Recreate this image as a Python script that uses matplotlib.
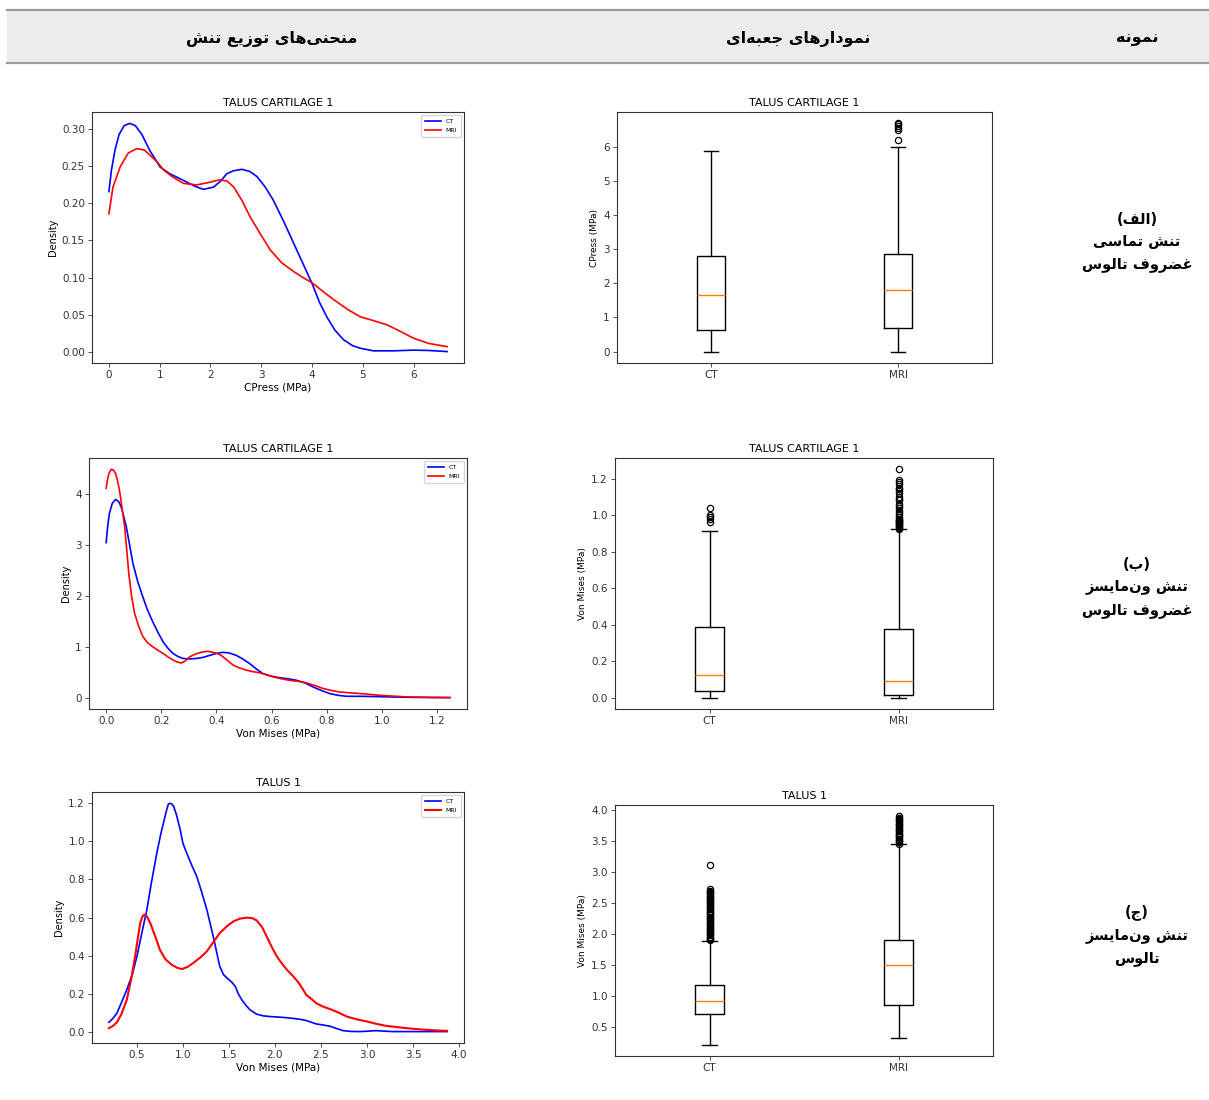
import matplotlib
matplotlib.use("Agg")
import matplotlib.pyplot as plt
from matplotlib.patches import Rectangle
from matplotlib.lines import Line2D

W, H = 1209, 1100

# ---- texts ----
head_curves = "منحنی\u200cهای توزیع تنش"
head_boxes = "نمودارهای جعبه\u200cای"
head_sample = "نمونه"
row_labels = ["(الف)\nتنش تماسی\nغضروف تالوس",
              "(ب)\nتنش ون\u200cمایسز\nغضروف تالوس",
              "(ج)\nتنش ون\u200cمایسز\nتالوس"]
titles = ["TALUS CARTILAGE 1", "TALUS CARTILAGE 1", "TALUS 1"]
xlabels = ["CPress (MPa)", "Von Mises (MPa)", "Von Mises (MPa)"]
box_ylabels = ["CPress (MPa)", "Von Mises (MPa)", "Von Mises (MPa)"]
groups = ["CT", "MRI"]

# ---- density curves ----
cp_ct_x = [0, 0.05, 0.12, 0.2, 0.3, 0.41, 0.52, 0.65, 0.8, 1.01, 1.2, 1.47, 1.7, 1.86, 2.06, 2.2, 2.32, 2.45, 2.62, 2.78, 2.92, 3.08, 3.24, 3.44, 3.64, 3.82, 4.0, 4.15, 4.29, 4.45, 4.62, 4.8, 4.95, 5.21, 5.6, 6.0, 6.3, 6.66]
cp_ct_y = [0.216, 0.245, 0.272, 0.293, 0.305, 0.308, 0.305, 0.293, 0.272, 0.249, 0.240, 0.231, 0.223, 0.219, 0.222, 0.230, 0.240, 0.244, 0.246, 0.243, 0.236, 0.222, 0.204, 0.176, 0.146, 0.119, 0.092, 0.066, 0.047, 0.029, 0.016, 0.008, 0.0045, 0.001, 0.001, 0.002, 0.0015, 0.0]
cp_mri_x = [0, 0.08, 0.22, 0.38, 0.55, 0.7, 0.81, 0.95, 1.08, 1.25, 1.47, 1.73, 1.95, 2.19, 2.33, 2.46, 2.62, 2.78, 2.98, 3.18, 3.4, 3.64, 3.82, 4.0, 4.2, 4.43, 4.7, 4.95, 5.2, 5.48, 5.75, 6.0, 6.3, 6.66]
cp_mri_y = [0.186, 0.222, 0.249, 0.268, 0.274, 0.272, 0.265, 0.256, 0.245, 0.236, 0.227, 0.225, 0.228, 0.232, 0.230, 0.222, 0.204, 0.182, 0.159, 0.137, 0.120, 0.108, 0.100, 0.093, 0.082, 0.070, 0.057, 0.047, 0.042, 0.036, 0.027, 0.018, 0.011, 0.0067]

vm_ct_x = [0, 0.006, 0.012, 0.022, 0.034, 0.045, 0.054, 0.063, 0.073, 0.085, 0.097, 0.115, 0.133, 0.15, 0.169, 0.188, 0.206, 0.224, 0.242, 0.26, 0.278, 0.3, 0.327, 0.35, 0.375, 0.4, 0.423, 0.445, 0.472, 0.495, 0.52, 0.545, 0.569, 0.6, 0.63, 0.66, 0.69, 0.72, 0.75, 0.78, 0.81, 0.84, 0.87, 0.93, 1.03, 1.1, 1.246]
vm_ct_y = [3.05, 3.4, 3.63, 3.82, 3.90, 3.86, 3.76, 3.58, 3.36, 3.0, 2.64, 2.27, 1.98, 1.72, 1.49, 1.28, 1.10, 0.97, 0.87, 0.81, 0.77, 0.76, 0.77, 0.79, 0.83, 0.87, 0.89, 0.88, 0.83, 0.76, 0.67, 0.56, 0.47, 0.42, 0.39, 0.37, 0.34, 0.29, 0.21, 0.14, 0.08, 0.045, 0.026, 0.025, 0.013, 0.005, 0.0]
vm_mri_x = [0, 0.005, 0.01, 0.018, 0.026, 0.034, 0.041, 0.048, 0.057, 0.067, 0.075, 0.082, 0.092, 0.103, 0.118, 0.133, 0.15, 0.169, 0.188, 0.206, 0.224, 0.242, 0.257, 0.272, 0.287, 0.302, 0.325, 0.351, 0.37, 0.387, 0.402, 0.417, 0.44, 0.46, 0.485, 0.508, 0.532, 0.556, 0.58, 0.605, 0.635, 0.665, 0.695, 0.726, 0.756, 0.786, 0.817, 0.847, 0.88, 0.92, 0.99, 1.09, 1.17, 1.246]
vm_mri_y = [4.12, 4.3, 4.41, 4.49, 4.48, 4.41, 4.27, 4.09, 3.75, 3.36, 2.88, 2.44, 2.0, 1.66, 1.40, 1.20, 1.08, 1.0, 0.93, 0.87, 0.80, 0.74, 0.70, 0.68, 0.72, 0.80, 0.86, 0.90, 0.91, 0.89, 0.87, 0.83, 0.73, 0.64, 0.58, 0.54, 0.51, 0.49, 0.45, 0.41, 0.37, 0.34, 0.32, 0.29, 0.24, 0.18, 0.14, 0.11, 0.095, 0.08, 0.046, 0.013, 0.004, 0.0]

ta_ct_x = [0.196, 0.24, 0.283, 0.33, 0.39, 0.45, 0.5, 0.55, 0.608, 0.66, 0.717, 0.76, 0.79, 0.82, 0.843, 0.87, 0.898, 0.93, 0.97, 1.0, 1.04, 1.1, 1.15, 1.2, 1.26, 1.3, 1.33, 1.37, 1.40, 1.44, 1.48, 1.53, 1.57, 1.6, 1.64, 1.69, 1.73, 1.8, 1.87, 1.95, 2.05, 2.15, 2.27, 2.34, 2.45, 2.52, 2.6, 2.67, 2.74, 2.82, 2.92, 3.0, 3.1, 3.2, 3.28, 3.5, 3.87]
ta_ct_y = [0.049, 0.07, 0.097, 0.15, 0.22, 0.3, 0.395, 0.51, 0.64, 0.79, 0.94, 1.04, 1.10, 1.16, 1.198, 1.2, 1.186, 1.14, 1.063, 0.99, 0.94, 0.87, 0.817, 0.74, 0.641, 0.56, 0.50, 0.41, 0.343, 0.3, 0.281, 0.26, 0.237, 0.2, 0.167, 0.135, 0.114, 0.092, 0.083, 0.079, 0.076, 0.072, 0.065, 0.058, 0.04, 0.035, 0.028, 0.016, 0.005, 0.001, 0.0, 0.002, 0.005, 0.002, 0.0, 0.0, 0.0]
ta_mri_x = [0.196, 0.24, 0.283, 0.33, 0.39, 0.44, 0.48, 0.51, 0.536, 0.56, 0.58, 0.61, 0.645, 0.7, 0.75, 0.81, 0.88, 0.94, 0.99, 1.05, 1.11, 1.19, 1.26, 1.33, 1.40, 1.48, 1.55, 1.62, 1.69, 1.75, 1.80, 1.86, 1.91, 1.96, 2.02, 2.08, 2.13, 2.2, 2.26, 2.3, 2.34, 2.4, 2.45, 2.52, 2.6, 2.7, 2.78, 2.9, 3.0, 3.1, 3.21, 3.32, 3.43, 3.54, 3.65, 3.76, 3.87]
ta_mri_y = [0.018, 0.03, 0.049, 0.09, 0.167, 0.28, 0.395, 0.49, 0.571, 0.605, 0.615, 0.605, 0.571, 0.5, 0.43, 0.38, 0.351, 0.335, 0.329, 0.34, 0.36, 0.39, 0.422, 0.47, 0.518, 0.555, 0.58, 0.594, 0.599, 0.597, 0.585, 0.55, 0.50, 0.45, 0.395, 0.355, 0.325, 0.29, 0.255, 0.225, 0.193, 0.17, 0.149, 0.132, 0.118, 0.098, 0.079, 0.063, 0.053, 0.041, 0.03, 0.024, 0.018, 0.013, 0.009, 0.006, 0.004]

# ---- box-plot statistics ----
cp_ct_box = dict(q1=0.63, med=1.67, q3=2.80, whislo=0.0, whishi=5.88, fliers=[])
cp_mri_box = dict(q1=0.68, med=1.79, q3=2.86, whislo=0.0, whishi=6.0,
                  fliers=[6.18, 6.49, 6.55, 6.59, 6.65, 6.68])
vm_ct_box = dict(q1=0.036, med=0.122, q3=0.384, whislo=0.0, whishi=0.91,
                 fliers=[0.96, 0.98, 0.99, 1.0, 1.036])
vm_mri_box = dict(q1=0.013, med=0.091, q3=0.377, whislo=0.0, whishi=0.921,
                  fliers=[0.925, 0.93, 0.935, 0.94, 0.945, 0.95, 0.955, 0.96, 0.965, 0.97, 0.975,
                          0.98, 0.99, 1.0, 1.01, 1.02, 1.04, 1.05, 1.06, 1.08, 1.09, 1.1, 1.12,
                          1.13, 1.14, 1.15, 1.17, 1.18, 1.19, 1.25])
ta_ct_box = dict(q1=0.715, med=0.924, q3=1.18, whislo=0.215, whishi=1.895,
                 fliers=[1.90, 1.92, 1.94, 1.96, 1.98, 2.0, 2.02, 2.04, 2.06, 2.08, 2.1, 2.12,
                         2.14, 2.16, 2.18, 2.2, 2.22, 2.24, 2.26, 2.28, 2.3, 2.32, 2.34, 2.36,
                         2.38, 2.4, 2.42, 2.44, 2.46, 2.48, 2.5, 2.52, 2.54, 2.56, 2.58, 2.6,
                         2.62, 2.64, 2.66, 2.68, 2.7, 2.72, 3.11])
ta_mri_box = dict(q1=0.86, med=1.5, q3=1.906, whislo=0.32, whishi=3.45,
                  fliers=[3.46, 3.48, 3.5, 3.52, 3.54, 3.56, 3.58, 3.6, 3.62, 3.64, 3.66, 3.68,
                          3.7, 3.72, 3.74, 3.76, 3.78, 3.8, 3.82, 3.84, 3.86, 3.88, 3.9])

# ---- minimal Persian shaping (presentation forms, visual order) ----
# letter: (isolated, final, initial, medial); right-joining letters have only 2 forms
FORMS = {
    'ا': (0xFE8D, 0xFE8E), 'ب': (0xFE8F, 0xFE90, 0xFE91, 0xFE92),
    'ت': (0xFE95, 0xFE96, 0xFE97, 0xFE98), 'ج': (0xFE9D, 0xFE9E, 0xFE9F, 0xFEA0),
    'ح': (0xFEA1, 0xFEA2, 0xFEA3, 0xFEA4), 'د': (0xFEA9, 0xFEAA),
    'ر': (0xFEAD, 0xFEAE), 'ز': (0xFEAF, 0xFEB0),
    'س': (0xFEB1, 0xFEB2, 0xFEB3, 0xFEB4), 'ش': (0xFEB5, 0xFEB6, 0xFEB7, 0xFEB8),
    'ض': (0xFEBD, 0xFEBE, 0xFEBF, 0xFEC0), 'ع': (0xFEC9, 0xFECA, 0xFECB, 0xFECC),
    'غ': (0xFECD, 0xFECE, 0xFECF, 0xFED0), 'ف': (0xFED1, 0xFED2, 0xFED3, 0xFED4),
    'ل': (0xFEDD, 0xFEDE, 0xFEDF, 0xFEE0), 'م': (0xFEE1, 0xFEE2, 0xFEE3, 0xFEE4),
    'ن': (0xFEE5, 0xFEE6, 0xFEE7, 0xFEE8), 'ه': (0xFEE9, 0xFEEA, 0xFEEB, 0xFEEC),
    'و': (0xFEED, 0xFEEE), 'ی': (0xFBFC, 0xFBFD, 0xFBFE, 0xFBFF),
}
MIRROR = {'(': ')', ')': '('}


def shape_line(s):
    out = []
    for i, ch in enumerate(s):
        f = FORMS.get(ch)
        if f is None:
            if ch != '\u200c':
                out.append(MIRROR.get(ch, ch))
            continue
        prev = FORMS.get(s[i - 1]) if i > 0 else None
        nxt = FORMS.get(s[i + 1]) if i + 1 < len(s) else None
        join_prev = prev is not None and len(prev) == 4
        join_next = len(f) == 4 and nxt is not None
        if join_prev and join_next:
            k = 3
        elif join_prev:
            k = 1
        elif join_next:
            k = 2
        else:
            k = 0
        out.append(chr(f[k]))
    return ''.join(reversed(out))


def fa(s):
    return '\n'.join(shape_line(line) for line in s.split('\n'))


def box(l, t, r, b):
    return [l / W, 1 - b / H, (r - l) / W, (b - t) / H]


def style(ax):
    for sp in ax.spines.values():
        sp.set_linewidth(0.8)
        sp.set_color('#333333')
    ax.tick_params(labelsize=7.5, length=2.6, width=0.6, colors='#333333', pad=2.5)


fig = plt.figure(figsize=(W / 100, H / 100), dpi=100)
fa_font = ['DejaVu Sans']

# header band
fig.add_artist(Rectangle((7 / W, 1 - 63 / H), 1 - 7 / W, 53 / H, transform=fig.transFigure,
                         facecolor='#ececec', edgecolor='none'))
for yy in (10, 63):
    fig.add_artist(Line2D([7 / W, 1], [1 - yy / H, 1 - yy / H], transform=fig.transFigure,
                          color='#9c9c9c', lw=1.6))
fig.text(272 / W, 1 - 39 / H, fa(head_curves), ha='center', va='center', fontsize=11.5,
         fontweight='bold', family=fa_font)
fig.text(798 / W, 1 - 39 / H, fa(head_boxes), ha='center', va='center', fontsize=11.5,
         fontweight='bold', family=fa_font)
fig.text(1137 / W, 1 - 39 / H, fa(head_sample), ha='center', va='center', fontsize=11.5,
         fontweight='bold', family=fa_font)

for lbl, yc in zip(row_labels, [242, 587, 935]):
    fig.text(1137 / W, 1 - yc / H, fa(lbl), ha='center', va='center', fontsize=10.5,
             fontweight='bold', family=fa_font, linespacing=1.6)

dens_boxes = [(92, 112, 464, 363), (89, 458, 467, 709), (92, 792, 464, 1043)]
bp_boxes = [(617, 112, 992, 363), (615, 458, 993, 709), (615, 805, 993, 1056)]
curves = [(cp_ct_x, cp_ct_y, cp_mri_x, cp_mri_y),
          (vm_ct_x, vm_ct_y, vm_mri_x, vm_mri_y),
          (ta_ct_x, ta_ct_y, ta_mri_x, ta_mri_y)]
stats = [(cp_ct_box, cp_mri_box), (vm_ct_box, vm_mri_box), (ta_ct_box, ta_mri_box)]

for i in range(3):
    ax = fig.add_axes(box(*dens_boxes[i]))
    cx, cy, mx, my = curves[i]
    ax.plot(cx, cy, color='blue', lw=1.2, label=groups[0])
    ax.plot(mx, my, color='red', lw=1.2 if i < 2 else 1.5, label=groups[1])
    ax.set_title(titles[i], fontsize=8, pad=4)
    ax.set_xlabel(xlabels[i], fontsize=7.5, labelpad=2)
    ax.set_ylabel('Density', fontsize=7, labelpad=3)
    style(ax)
    ax.legend(loc='upper right', fontsize=4.5, handlelength=2.5, borderpad=0.6,
              labelspacing=0.5, framealpha=0.8)
    if i == 0:
        ax.set_xticks([0, 1, 2, 3, 4, 5, 6])
    if i == 1:
        ax.set_yticks([0, 1, 2, 3, 4])

    bx = fig.add_axes(box(*bp_boxes[i]))
    st = []
    for g, s in zip(groups, stats[i]):
        d = dict(s)
        d['label'] = g
        st.append(d)
    bx.bxp(st, positions=[1, 2], widths=0.15,
           boxprops=dict(lw=1.0, color='black'),
           whiskerprops=dict(lw=1.0, color='black'),
           capprops=dict(lw=1.0, color='black'),
           medianprops=dict(lw=1.0, color='#ff7f0e'),
           flierprops=dict(marker='o', markersize=4.5, markerfacecolor='none',
                           markeredgecolor='black', markeredgewidth=0.9))
    bx.set_title(titles[i], fontsize=8, pad=4)
    bx.set_ylabel(box_ylabels[i], fontsize=6.5, labelpad=3)
    style(bx)
    if i == 0:
        bx.set_yticks([0, 1, 2, 3, 4, 5, 6])

fig.savefig('out.png', dpi=100, facecolor='white')
